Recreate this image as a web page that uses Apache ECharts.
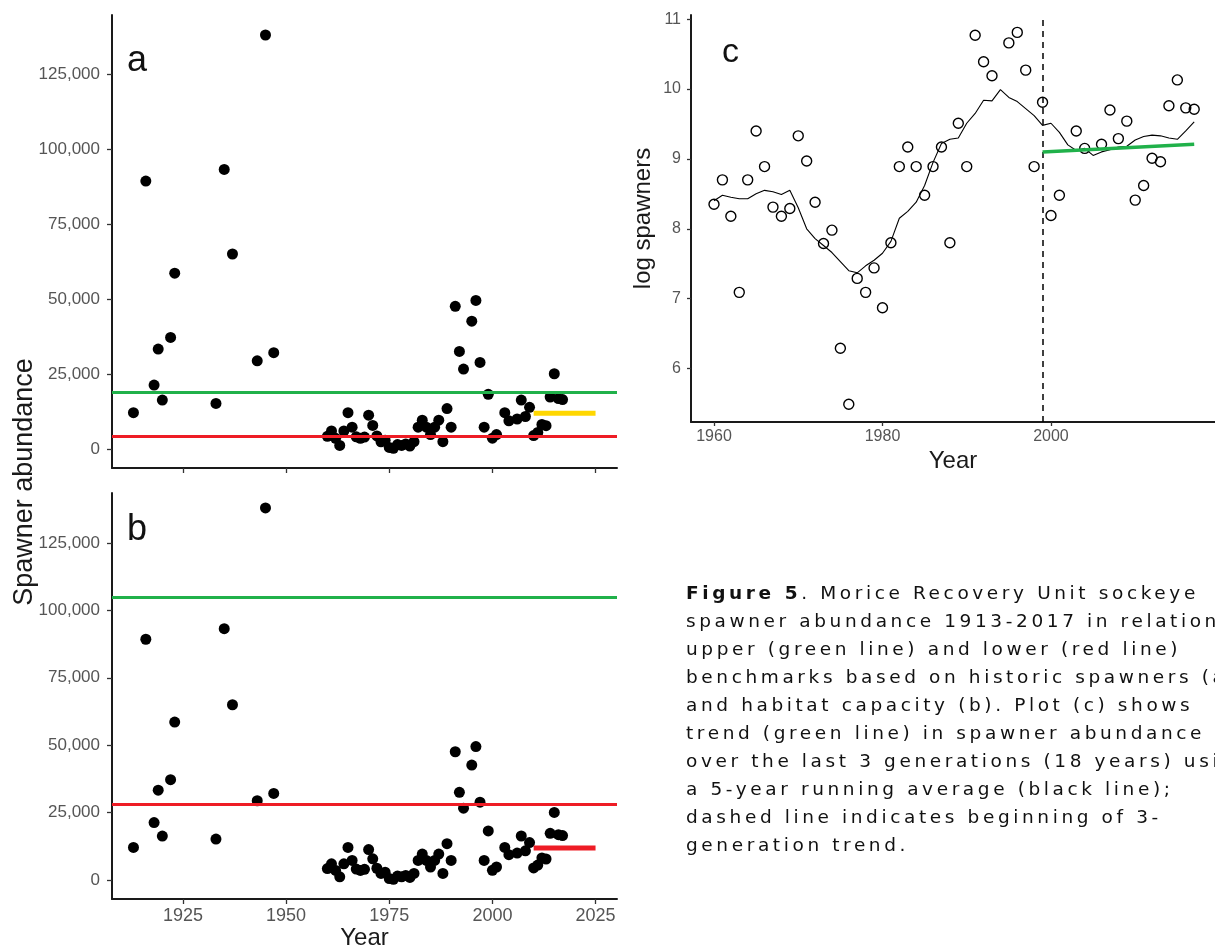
<!DOCTYPE html>
<html>
<head>
<meta charset="utf-8">
<script src="https://cdn.jsdelivr.net/npm/echarts@6/dist/echarts.min.js"></script>
<style>
  html, body { margin:0; padding:0; background:#fff; overflow:hidden; }
  #chart { position:absolute; left:0; top:0; width:1215px; height:946px; }
  #caption { position:absolute; left:686px; top:579px; font-family:"DejaVu Sans", sans-serif; font-size:18.5px; line-height:28px; color:#111; white-space:nowrap; }
  #caption b { font-weight:700; }
</style>
</head>
<body>
<div id="chart"></div>
<div id="caption"></div>
<script>
// ---------- DATA ----------
const earlyYears = [1913,1916,1918,1919,1920,1922,1923,1933,1935,1937,1943,1945,1947];
const earlyAbund = [12100,89300,21300,33300,16300,37200,58600,15200,93200,65000,29400,138000,32100];

const modernYears = [1960,1961,1962,1963,1964,1965,1966,1967,1968,1969,1970,1971,1972,1973,1974,1975,1976,1977,1978,1979,1980,1981,1982,1983,1984,1985,1986,1987,1988,1989,1990,1991,1992,1993,1995,1996,1997,1998,1999,2000,2001,2003,2004,2006,2007,2008,2009,2010,2011,2012,2013,2014,2015,2016,2017];
const modernAbund = [4230,6000,3570,1200,6000,12090,7260,4060,3570,3980,11270,7860,4360,2420,2920,540,240,1470,1200,1700,960,2440,7260,9600,7260,4820,7260,9600,2440,13490,7260,47570,32530,26640,42620,49510,28850,7260,18210,3600,4820,12090,9410,10000,16320,10830,13900,4490,5540,8180,7790,17330,25080,16820,16480];
const logSpawners = [8.35,8.70,8.18,7.09,8.70,9.40,8.89,8.31,8.18,8.29,9.33,8.97,8.38,7.79,7.98,6.29,5.49,7.29,7.09,7.44,6.87,7.80,8.89,9.17,8.89,8.48,8.89,9.17,7.80,9.51,8.89,10.77,10.39,10.19,10.66,10.81,10.27,8.89,9.81,8.19,8.48,9.40,9.15,9.21,9.70,9.29,9.54,8.41,8.62,9.01,8.96,9.76,10.13,9.73,9.71];

const runAvgYears = [1960,1961,1962,1963,1964,1965,1966,1967,1968,1969,1970,1971,1972,1973,1974,1975,1976,1977,1978,1979,1980,1981,1982,1983,1984,1985,1986,1987,1988,1989,1990,1991,1992,1993,1994,1995,1996,1997,1998,1999,2000,2001,2002,2003,2004,2005,2006,2007,2008,2009,2010,2011,2012,2013,2014,2015,2016,2017];
const runAvgValues = [8.40,8.48,8.45,8.43,8.43,8.50,8.55,8.53,8.49,8.55,8.30,8.00,7.86,7.76,7.66,7.53,7.40,7.37,7.47,7.55,7.65,7.82,8.15,8.25,8.38,8.62,8.95,9.22,9.28,9.30,9.51,9.65,9.84,9.83,9.99,9.88,9.82,9.72,9.62,9.48,9.51,9.38,9.20,9.12,9.15,9.05,9.10,9.13,9.17,9.18,9.27,9.32,9.34,9.33,9.30,9.28,9.40,9.53];

const trendYears = [1999, 2017];
const trendValues = [9.10, 9.21];
const trendStartYear = 1999;

const benchA = { upper: 18800, lower: 4400 };
const benchB = { upper: 105000, lower: 28200 };
const recentYears = [2010, 2025];
const recentValue = 11900;

const yTicksAbund = [0,25000,50000,75000,100000,125000];
const xTicksAB = [1925,1950,1975,2000,2025];
const yTicksLog = [6,7,8,9,10,11];
const xTicksC = [1960,1980,2000];

const captionLines = [
  "<b>Figure 5</b>. Morice Recovery Unit sockeye",
  "spawner abundance 1913-2017 in relation to",
  "upper (green line) and lower (red line)",
  "benchmarks based on historic spawners (a)",
  "and habitat capacity (b). Plot (c) shows",
  "trend (green line) in spawner abundance",
  "over the last 3 generations (18 years) using",
  "a 5-year running average (black line);",
  "dashed line indicates beginning of 3-",
  "generation trend."
];

// ---------- BUILD ----------
const GREEN = '#20b14a', RED = '#ee1c25', GOLD = '#ffd700';
const FONT = '"Liberation Sans", Arial, sans-serif';
const allYears = earlyYears.concat(modernYears);
const allAbund = earlyAbund.concat(modernAbund);
const abundPts = allYears.map((y,i)=>[y, allAbund[i]]);
const logPts = modernYears.map((y,i)=>[y, logSpawners[i]]);
const runPts = runAvgYears.map((y,i)=>[y, runAvgValues[i]]);
const trendPts = trendYears.map((y,i)=>[y, trendValues[i]]);
const recentPts = recentYears.map(y=>[y, recentValue]);

const fmt = v => v.toLocaleString('en-US');
const plain = v => String(v);
const axisLine = { show:true, onZero:false, lineStyle:{ color:'#1a1a1a', width:2 } };
const tick = (vals,len)=>({ show:true, length:len||5, lineStyle:{ color:'#333', width:1.3 }, customValues: vals });

function xAB(idx, labels){
  return {
    type:'value', gridIndex: idx, min:1907.8, max:2030.2,
    axisLine: axisLine, axisTick: tick(xTicksAB),
    axisLabel: { show: labels, customValues: xTicksAB, formatter: plain, color:'#555', fontSize:18, fontFamily:FONT, margin:8 },
    splitLine:{show:false},
    name: labels ? 'Year' : '', nameLocation:'middle', nameGap:27,
    nameTextStyle:{ fontSize:24, color:'#1a1a1a', fontFamily:FONT }
  };
}
function yAB(idx, min, max){
  return {
    type:'value', gridIndex: idx, min:min, max:max,
    axisLine: axisLine, axisTick: tick(yTicksAbund),
    axisLabel: { customValues: yTicksAbund, formatter: fmt, color:'#555', fontSize:17, fontFamily:FONT, margin:12 },
    splitLine:{show:false}
  };
}
const hl = (v,c,w)=>({ yAxis:v, lineStyle:{ color:c, width:w, type:'solid' } });

const option = {
  animation:false,
  backgroundColor:'#fff',
  grid: [
    { left:112, top:15, width:505, height:453, outerBoundsMode:'none', containLabel:false },
    { left:112, top:493, width:505, height:406, outerBoundsMode:'none', containLabel:false },
    { left:691, top:15, width:524, height:407, outerBoundsMode:'none', containLabel:false }
  ],
  xAxis: [
    xAB(0,false), xAB(1,true),
    {
      type:'value', gridIndex:2, min:1957.27, max:2019.47,
      axisLine: axisLine, axisTick: tick(xTicksC,4),
      axisLabel:{ customValues:xTicksC, formatter: plain, color:'#555', fontSize:16, fontFamily:FONT, margin:7 },
      splitLine:{show:false},
      name:'Year', nameLocation:'middle', nameGap:27,
      nameTextStyle:{ fontSize:24, color:'#1a1a1a', fontFamily:FONT }
    }
  ],
  yAxis: [
    yAB(0,-6333,144667), yAB(1,-7047,143546),
    {
      type:'value', gridIndex:2, min:5.235, max:11.059,
      axisLine: axisLine, axisTick: tick(yTicksLog,4),
      axisLabel:{ customValues:yTicksLog, formatter: plain, color:'#555', fontSize:16, fontFamily:FONT, margin:10 },
      splitLine:{show:false},
      name:'log spawners', nameLocation:'middle', nameGap:36,
      nameTextStyle:{ fontSize:24, color:'#1a1a1a', fontFamily:FONT }
    }
  ],
  graphic: [
    { type:'text', left:127, top:43, style:{ text:'a', fontSize:36, fontFamily:FONT, fill:'#111' } },
    { type:'text', left:127, top:512, style:{ text:'b', fontSize:36, fontFamily:FONT, fill:'#111' } },
    { type:'text', left:722, top:36, style:{ text:'c', fontSize:34, fontFamily:FONT, fill:'#111' } },
    { type:'text', x:25, y:482, rotation:Math.PI/2,
      style:{ text:'Spawner abundance', fontSize:27, fontFamily:FONT, fill:'#1a1a1a', align:'center', verticalAlign:'middle' } }
  ],
  series: [
    { type:'scatter', xAxisIndex:0, yAxisIndex:0, data:abundPts, symbol:'circle', symbolSize:11,
      itemStyle:{ color:'#000', opacity:1 }, z:2,
      markLine:{ silent:true, symbol:'none', label:{show:false}, z:3,
        data:[ hl(benchA.upper, GREEN, 3), hl(benchA.lower, RED, 3) ] } },
    { type:'line', xAxisIndex:0, yAxisIndex:0, data:recentPts, showSymbol:false, symbol:'none',
      lineStyle:{ color:GOLD, width:5 }, z:4 },
    { type:'scatter', xAxisIndex:1, yAxisIndex:1, data:abundPts, symbol:'circle', symbolSize:11,
      itemStyle:{ color:'#000', opacity:1 }, z:2,
      markLine:{ silent:true, symbol:'none', label:{show:false}, z:3,
        data:[ hl(benchB.upper, GREEN, 3), hl(benchB.lower, RED, 3) ] } },
    { type:'line', xAxisIndex:1, yAxisIndex:1, data:recentPts, showSymbol:false, symbol:'none',
      lineStyle:{ color:RED, width:5 }, z:4 },
    { type:'scatter', xAxisIndex:2, yAxisIndex:2, data:logPts, symbol:'circle', symbolSize:10,
      itemStyle:{ color:'rgba(255,255,255,0)', borderColor:'#000', borderWidth:1.4, opacity:1 }, z:3,
      markLine:{ silent:true, symbol:'none', label:{show:false},
        data:[ { xAxis:trendStartYear, lineStyle:{ color:'#000', width:1.5, type:[6,5] } } ] } },
    { type:'line', xAxisIndex:2, yAxisIndex:2, data:runPts, showSymbol:false, symbol:'none',
      lineStyle:{ color:'#000', width:1.1 }, z:4 },
    { type:'line', xAxisIndex:2, yAxisIndex:2, data:trendPts, showSymbol:false, symbol:'none',
      lineStyle:{ color:GREEN, width:3.5 }, z:5 }
  ]
};

const chart = echarts.init(document.getElementById('chart'), null, { renderer:'canvas' });
chart.setOption(option);

// caption
const cap = document.getElementById('caption');
cap.innerHTML = captionLines.map(l=>'<div>'+l+'</div>').join('');
// fit letter spacing so that reference line 3 spans ~495px
(function(){
  const probe = cap.children[2];
  probe.style.display='inline-block';
  const natural = probe.getBoundingClientRect().width;
  probe.style.display='';
  const n = captionLines[2].length;
  const ls = Math.max(0,(495 - natural)/n);
  cap.style.letterSpacing = ls.toFixed(2)+'px';
})();
</script>
</body>
</html>
